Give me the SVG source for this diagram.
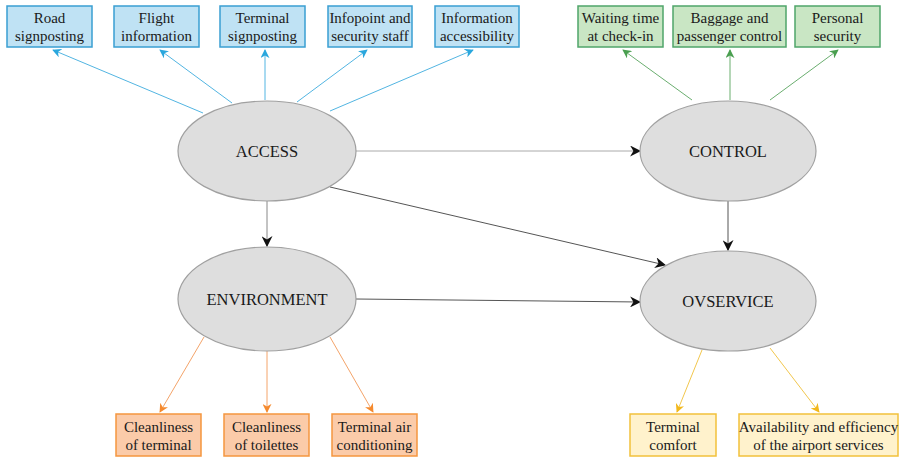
<svg xmlns="http://www.w3.org/2000/svg" width="900" height="458" viewBox="0 0 900 458">
<style>
text{font-family:"Liberation Serif","Times New Roman",serif;fill:#1a1a1a;text-anchor:middle}
.bx{font-size:15px}
.el{font-size:16.5px}
.ell{fill:#dedede;stroke:#a0a0a0;stroke-width:1.2}
.b{fill:#bfe2f4;stroke:#3a9fd2;stroke-width:1.5}
.g{fill:#c9e6c4;stroke:#4fa56a;stroke-width:1.5}
.o{fill:#fbcba9;stroke:#f5963f;stroke-width:1.5}
.y{fill:#fff2cc;stroke:#f2c13b;stroke-width:1.5}
.lb{stroke:#52b5e2;stroke-width:1;fill:none}
.lg{stroke:#6aae6f;stroke-width:1;fill:none}
.lo{stroke:#f4a46a;stroke-width:1;fill:none}
.ly{stroke:#f2c74e;stroke-width:1;fill:none}
.lk{stroke:#555;stroke-width:1;fill:none}
</style>
<defs>
<marker id="ab" viewBox="0 0 10 10" refX="9" refY="5" markerWidth="9" markerHeight="9" orient="auto" markerUnits="userSpaceOnUse"><path d="M0,0 L10,5 L0,10 L3,5z" fill="#2aa7dd"/></marker>
<marker id="ag" viewBox="0 0 10 10" refX="9" refY="5" markerWidth="9" markerHeight="9" orient="auto" markerUnits="userSpaceOnUse"><path d="M0,0 L10,5 L0,10 L3,5z" fill="#4a9f50"/></marker>
<marker id="ao" viewBox="0 0 10 10" refX="9" refY="5" markerWidth="9" markerHeight="9" orient="auto" markerUnits="userSpaceOnUse"><path d="M0,0 L10,5 L0,10 L3,5z" fill="#f58a2e"/></marker>
<marker id="ay" viewBox="0 0 10 10" refX="9" refY="5" markerWidth="9" markerHeight="9" orient="auto" markerUnits="userSpaceOnUse"><path d="M0,0 L10,5 L0,10 L3,5z" fill="#f2b81c"/></marker>
<marker id="ak" viewBox="0 0 10 10" refX="9" refY="5" markerWidth="11" markerHeight="11" orient="auto" markerUnits="userSpaceOnUse"><path d="M0,0 L10,5 L0,10 L3,5z" fill="#111"/></marker>
</defs>
<g id="connectors">
<line class="lb" x1="203" y1="113" x2="53" y2="50" marker-end="url(#ab)"/>
<line class="lb" x1="232" y1="103" x2="160" y2="50" marker-end="url(#ab)"/>
<line class="lb" x1="265" y1="100" x2="265" y2="50" marker-end="url(#ab)"/>
<line class="lb" x1="297" y1="102" x2="367" y2="50" marker-end="url(#ab)"/>
<line class="lb" x1="330" y1="111" x2="473" y2="50" marker-end="url(#ab)"/>
<line class="lg" x1="692" y1="100" x2="623" y2="50" marker-end="url(#ag)"/>
<line class="lg" x1="730" y1="100" x2="730" y2="50" marker-end="url(#ag)"/>
<line class="lg" x1="770" y1="100" x2="838" y2="50" marker-end="url(#ag)"/>
<line class="lo" x1="204" y1="337" x2="160" y2="412" marker-end="url(#ao)"/>
<line class="lo" x1="267" y1="351" x2="267" y2="412" marker-end="url(#ao)"/>
<line class="lo" x1="330" y1="337" x2="373" y2="412" marker-end="url(#ao)"/>
<line class="ly" x1="702" y1="350" x2="677" y2="412" marker-end="url(#ay)"/>
<line class="ly" x1="770" y1="348" x2="819" y2="412" marker-end="url(#ay)"/>
<line class="lk" x1="356" y1="151" x2="640" y2="151" marker-end="url(#ak)" style="stroke:#aaa"/>
<line class="lk" x1="330" y1="187" x2="665" y2="265" marker-end="url(#ak)"/>
<line class="lk" x1="267" y1="201" x2="267" y2="246" marker-end="url(#ak)" style="stroke:#888"/>
<line class="lk" x1="728" y1="201" x2="728" y2="250" marker-end="url(#ak)"/>
<line class="lk" x1="356" y1="299" x2="640" y2="302" marker-end="url(#ak)"/>
</g>
<g id="access"><ellipse class="ell" cx="267" cy="151" rx="89" ry="50"/><text class="el" x="267" y="157">ACCESS</text></g>
<g id="environment"><ellipse class="ell" cx="267" cy="299" rx="89" ry="52"/><text class="el" x="267" y="305">ENVIRONMENT</text></g>
<g id="control"><ellipse class="ell" cx="728" cy="151" rx="88" ry="50"/><text class="el" x="728" y="157">CONTROL</text></g>
<g id="ovservice"><ellipse class="ell" cx="728" cy="301" rx="88" ry="50"/><text class="el" x="728" y="307">OVSERVICE</text></g>
<g id="road"><rect class="b" x="7" y="6" width="85" height="41"/><text class="bx" x="49.5" y="23">Road</text><text class="bx" x="49.5" y="41">signposting</text></g>
<g id="flight"><rect class="b" x="114" y="6" width="85" height="41"/><text class="bx" x="156.5" y="23">Flight</text><text class="bx" x="156.5" y="41">information</text></g>
<g id="terminal"><rect class="b" x="220" y="6" width="85" height="41"/><text class="bx" x="262.5" y="23">Terminal</text><text class="bx" x="262.5" y="41">signposting</text></g>
<g id="infopoint"><rect class="b" x="328" y="6" width="84" height="41"/><text class="bx" x="370" y="23">Infopoint and</text><text class="bx" x="370" y="41">security staff</text></g>
<g id="infoaccess"><rect class="b" x="435" y="6" width="84" height="41"/><text class="bx" x="477" y="23">Information</text><text class="bx" x="477" y="41">accessibility</text></g>
<g id="waiting"><rect class="g" x="578" y="6" width="85" height="41"/><text class="bx" x="620.5" y="23">Waiting time</text><text class="bx" x="620.5" y="41">at check-in</text></g>
<g id="baggage"><rect class="g" x="673" y="6" width="113" height="41"/><text class="bx" x="729.5" y="23">Baggage and</text><text class="bx" x="729.5" y="41">passenger control</text></g>
<g id="personal"><rect class="g" x="795" y="6" width="85" height="41"/><text class="bx" x="837.5" y="23">Personal</text><text class="bx" x="837.5" y="41">security</text></g>
<g id="cleanterm"><rect class="o" x="116" y="414" width="85" height="42"/><text class="bx" x="158.5" y="432">Cleanliness</text><text class="bx" x="158.5" y="450">of terminal</text></g>
<g id="cleantoil"><rect class="o" x="224" y="414" width="85" height="42"/><text class="bx" x="266.5" y="432">Cleanliness</text><text class="bx" x="266.5" y="450">of toilettes</text></g>
<g id="aircond"><rect class="o" x="332" y="414" width="85" height="42"/><text class="bx" x="374.5" y="432">Terminal air</text><text class="bx" x="374.5" y="450">conditioning</text></g>
<g id="comfort"><rect class="y" x="630" y="414" width="86" height="42"/><text class="bx" x="673" y="432">Terminal</text><text class="bx" x="673" y="450">comfort</text></g>
<g id="availability"><rect class="y" x="739" y="414" width="159" height="42"/><text class="bx" x="818.5" y="432">Availability and efficiency</text><text class="bx" x="818.5" y="450">of the airport services</text></g>
</svg>
